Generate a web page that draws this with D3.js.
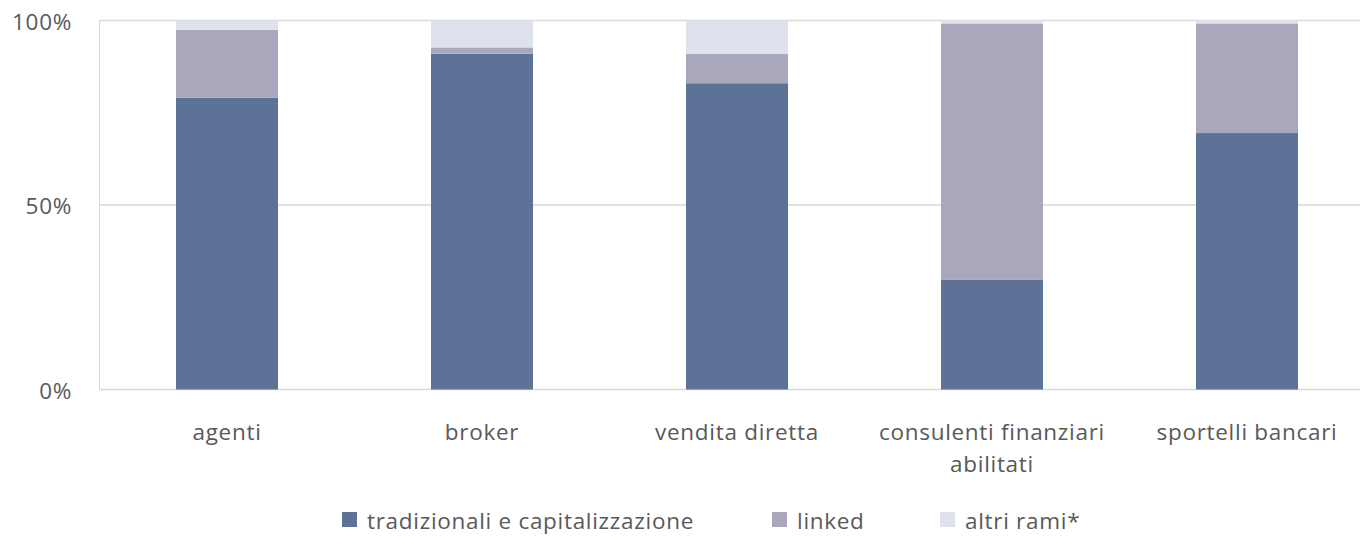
<!DOCTYPE html>
<html>
<head>
<meta charset="utf-8">
<script src="https://cdn.jsdelivr.net/npm/d3@7"></script>
<style>
  body { margin: 0; background: #fff; }
  text { font-family: "Open Sans", Lato, sans-serif; fill: #595959; letter-spacing: 0.7px; }
</style>
</head>
<body>
<svg id="chart" width="1360" height="536" viewBox="0 0 1360 536"></svg>
<script>
// categories and series (percent of total)
const categories = ["agenti", "broker", "vendita diretta", "consulenti finanziari abilitati", "sportelli bancari"];
const categoryLines = [["agenti"], ["broker"], ["vendita diretta"], ["consulenti finanziari", "abilitati"], ["sportelli bancari"]];
const seriesNames = ["tradizionali e capitalizzazione", "linked", "altri rami*"];
const tradizionali = [79.1, 91.0, 83.0, 29.7, 69.5];
const linked = [18.4, 1.7, 8.0, 69.5, 29.7];
const altri = [2.5, 7.3, 9.0, 0.8, 0.8];
const yTicks = [0, 50, 100];
const colors = ["#5d7297", "#a9a7bb", "#dee2ec"];

const svg = d3.select("#chart");
const plotLeft = 99.5, plotTop = 20.5, plotBottom = 389.5;
const fontSize = 22.5;

const rows = categories.map((c, i) => ({
  cat: c,
  [seriesNames[0]]: tradizionali[i],
  [seriesNames[1]]: linked[i],
  [seriesNames[2]]: altri[i]
}));
const stacked = d3.stack().keys(seriesNames)(rows);

const x = d3.scaleBand().domain(categories).range([plotLeft, plotLeft + 255 * 5]).paddingInner(0.6).paddingOuter(0.3);
const y = d3.scaleLinear().domain([0, 100]).range([plotBottom, plotTop]);

// gridlines
svg.append("g").selectAll("line")
  .data(yTicks)
  .join("line")
  .attr("x1", plotLeft).attr("x2", 1360)
  .attr("y1", d => y(d)).attr("y2", d => y(d))
  .attr("stroke", "#d9d9d9").attr("stroke-width", 1.5);

// y axis line
svg.append("line")
  .attr("x1", plotLeft).attr("x2", plotLeft)
  .attr("y1", plotTop).attr("y2", plotBottom)
  .attr("stroke", "#c8d8e4").attr("stroke-width", 1);

// y tick labels
svg.append("g").selectAll("text")
  .data(yTicks)
  .join("text")
  .attr("x", 72).attr("y", d => y(d) + 1.5)
  .attr("dy", "0.35em")
  .attr("text-anchor", "end")
  .attr("font-size", fontSize)
  .text(d => d + "%");

// bars
svg.append("g").selectAll("g")
  .data(stacked)
  .join("g")
  .attr("fill", (d, i) => colors[i])
  .selectAll("rect")
  .data(d => d)
  .join("rect")
  .attr("x", d => x(d.data.cat))
  .attr("width", x.bandwidth())
  .attr("y", d => y(d[1]))
  .attr("height", d => y(d[0]) - y(d[1]));

// x labels
const xl = svg.append("g").selectAll("text")
  .data(categories)
  .join("text")
  .attr("x", d => x(d) + x.bandwidth() / 2)
  .attr("y", 440)
  .attr("text-anchor", "middle")
  .attr("font-size", fontSize);
xl.selectAll("tspan")
  .data((d, i) => categoryLines[i])
  .join("tspan")
  .attr("x", function () { return d3.select(this.parentNode).attr("x"); })
  .attr("dy", (d, i) => i === 0 ? 0 : 32)
  .text(d => d);

// legend
const legendX = [342, 772, 940];
const legend = svg.append("g").selectAll("g")
  .data(seriesNames)
  .join("g")
  .attr("transform", (d, i) => `translate(${legendX[i]},520)`);
legend.append("rect")
  .attr("x", 0).attr("y", -8)
  .attr("width", 15).attr("height", 15)
  .attr("fill", (d, i) => colors[i]);
legend.append("text")
  .attr("x", 25).attr("y", 0)
  .attr("dy", "0.38em")
  .attr("font-size", fontSize)
  .text(d => d);
</script>
</body>
</html>
